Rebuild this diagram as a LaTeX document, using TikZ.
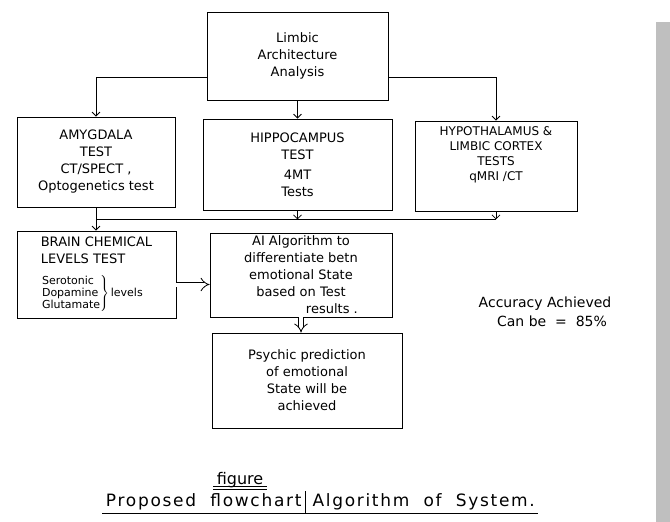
\documentclass[tikz,border=0pt]{standalone}
\usepackage{fontspec}
\setmainfont{DejaVu Sans}
\usetikzlibrary{arrows.meta}

\begin{document}
\begin{tikzpicture}[x=1pt,y=-1pt,
  box/.style={draw,thick,align=center,inner sep=2pt,font=\fontsize{13}{17}\selectfont},
  arr/.style={thick,-{Straight Barb[length=4pt,width=8pt]}},
  dbl/.style={thick,double,double distance=4pt,-{Implies}},
  capt/.style={font=\fontsize{17}{20}\selectfont\addfontfeature{LetterSpace=10}}]
  \useasboundingbox (0,0) rectangle (670,522);
  \fill[black!25] (656,22) rectangle (670,522);

  \node[box,minimum width=181pt,minimum height=88pt] (lim) at (297.5,56) {Limbic\\Architecture\\Analysis};

  \node[box,minimum width=158pt,minimum height=90pt] (amyg) at (96,162) {AMYGDALA\\TEST\\CT/SPECT ,\\Optogenetics test};
  \node[box,minimum width=189pt,minimum height=91pt] (hipp) at (297.5,164.5) {HIPPOCAMPUS\\TEST\\[3pt]4MT\\Tests};
  \node[box,minimum width=162pt,minimum height=90pt,font=\fontsize{12}{15}\selectfont] (hyp) at (496,166) {HYPOTHALAMUS \&\\LIMBIC CORTEX\\TESTS\\qMRI /CT\\[10pt]};

  \node[box,align=left,minimum width=159pt,minimum height=87pt] (brain) at (96.5,274.5) {BRAIN CHEMICAL\\LEVELS TEST\\[11pt]
    {\fontsize{11}{12}\selectfont$\left.\begin{tabular}{@{}l@{}}Serotonic\\Dopamine\\Glutamate\end{tabular}\right\}$\,levels}};
  \node[box,minimum width=182pt,minimum height=84pt] (ai) at (301,275) {AI Algorithm to\\differentiate betn\\emotional State\\based on Test\\\hfill results .};
  \node[box,minimum width=190pt,minimum height=95pt] (psy) at (307,380.5) {Psychic prediction\\of emotional\\State will be\\achieved};

  \node[align=center,font=\fontsize{14}{19}\selectfont] (acc) at (545,312) {Accuracy Achieved\\\quad Can be \ = \ 85\%};

  \draw[arr] ([yshift=-21pt]lim.west) -| (amyg.north);
  \draw[arr] ([yshift=-21pt]lim.east) -| (hyp.north);
  \draw[arr] (lim.south) -- (hipp.north);

  \coordinate (bus) at ([yshift=-12pt]amyg.south);
  \draw[thick] (bus) -- (bus -| hyp.south);
  \draw[arr] (hipp.south) -- (hipp.south |- bus);
  \draw[arr] (hyp.south) -- (hyp.south |- bus);
  \draw[arr] (amyg.south) -- (amyg.south |- brain.north);

  \draw[dbl] ([yshift=-10pt]brain.east) -- ([yshift=-10pt]brain.east -| ai.west);
  \draw[dbl] (ai.south) -- (ai.south |- psy.north);

  \node[font=\fontsize{16}{19}\selectfont] (fig) at (240,480) {figure};
  \draw[thick] ([yshift=2pt]fig.south west) -- ([yshift=2pt]fig.south east);
  \draw[thick] ([yshift=4.5pt]fig.south west) -- ([yshift=4.5pt]fig.south east);
  \node[anchor=east,capt] (cap1) at (305,502) {Proposed\ \ flowchart};
  \node[anchor=west,capt] (cap2) at (309,502) {Algorithm\ \ of\ \ System.};
  \draw[thick] (cap1.south west) -- (cap2.south east);
  \draw[thick] (cap1.east |- fig.south) -- (cap1.east |- cap1.south);
\end{tikzpicture}
\end{document}
